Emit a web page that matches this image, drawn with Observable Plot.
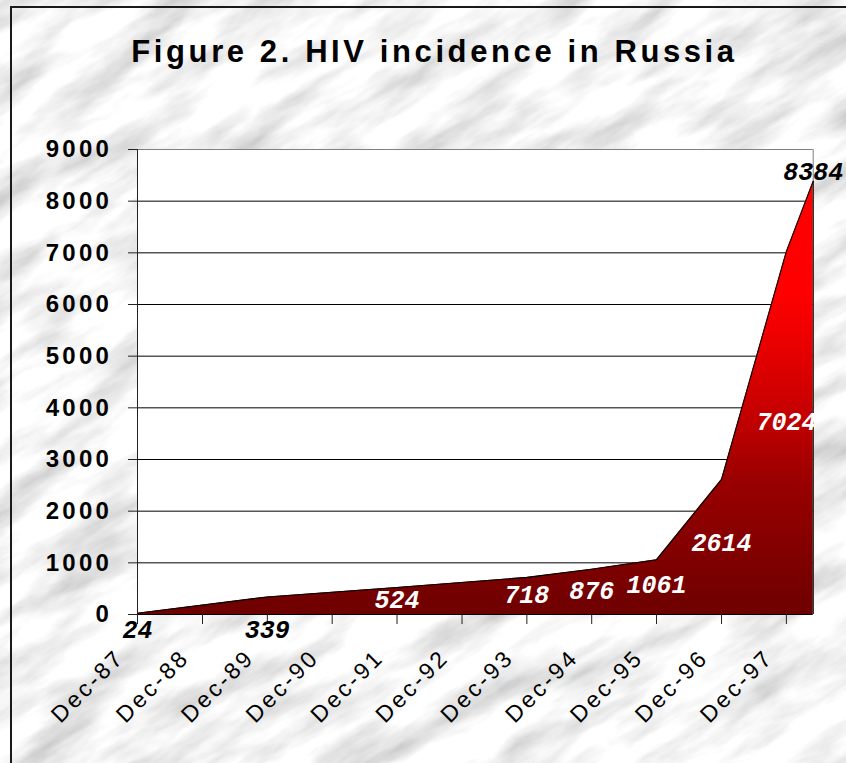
<!DOCTYPE html>
<html>
<head>
<meta charset="utf-8">
<script src="https://cdn.jsdelivr.net/npm/d3@7"></script>
<script src="https://cdn.jsdelivr.net/npm/@observablehq/plot@0.6"></script>
<style>
  html, body { margin: 0; padding: 0; }
  #page { position: relative; width: 846px; height: 763px; overflow: hidden; background-color: #e6e6e6; }
  #border { position: absolute; left: 10px; top: 6px; width: 900px; height: 900px;
            border-left: 2px solid #1a1a1a; border-top: 2px solid #1a1a1a; pointer-events: none; }
  #title { position: relative; height: 64px; padding-top: 36px; padding-left: 23px; text-align: center;
           font: bold 31px "Liberation Sans", Arial, sans-serif; line-height: 31px; letter-spacing: 3.6px; color: #000; }
  #chart svg { display: block; }
</style>
</head>
<body>
<div id="page">
  <div id="title">Figure 2. HIV incidence in Russia</div>
  <div id="chart"></div>
  <div id="border"></div>
</div>
<script>
// ---- data ----
const dates = ["1987-12", "1989-12", "1991-12", "1993-12", "1994-12", "1995-12", "1996-12", "1997-12", "1998-05"];
const cases = [24, 339, 524, 718, 876, 1061, 2614, 7024, 8384];
const labelPlace = ["below", "below", "inside", "inside", "inside", "inside", "inside", "inside", "above"];
const tickLabels = ["Dec-87", "Dec-88", "Dec-89", "Dec-90", "Dec-91", "Dec-92", "Dec-93", "Dec-94", "Dec-95", "Dec-96", "Dec-97"];
const yTicks = [0, 1000, 2000, 3000, 4000, 5000, 6000, 7000, 8000, 9000];

// ---- marble background ----
const marble = `<svg xmlns="http://www.w3.org/2000/svg" width="846" height="763"><defs><filter id="m"><feTurbulence type="fractalNoise" baseFrequency="0.009 0.03" numOctaves="5" seed="11"/><feColorMatrix type="matrix" values="0.9 0 0 0 0.46  0.9 0 0 0 0.46  0.9 0 0 0 0.46  0 0 0 0 1"/></filter></defs><g transform="rotate(-30 423 381)"><rect x="-500" y="-500" width="1900" height="1800" filter="url(#m)"/></g></svg>`;
document.getElementById("page").style.backgroundImage = `url("data:image/svg+xml,${encodeURIComponent(marble)}")`;

// ---- build ----
const parseMonth = d3.utcParse("%Y-%m");
const parseTick = d3.utcParse("%b-%y");
const data = dates.map((d, i) => ({date: parseMonth(d), value: cases[i], place: labelPlace[i]}));
const tickDates = tickLabels.map(parseTick);
const labelByTime = new Map(tickDates.map((d, i) => [+d, tickLabels[i]]));

const sans = "'Liberation Sans', Arial, sans-serif";
const mono = "'Liberation Mono', 'Courier New', monospace";
const lbl = {x: "date", text: d => String(d.value), fontFamily: mono, fontWeight: "bold", fontStyle: "italic", fontSize: 25, ariaLabel: "data label"};
const last = data[data.length - 1];

const svg = Plot.plot({
  width: 846,
  height: 663,
  marginLeft: 137,
  marginRight: 33.3,
  marginTop: 49,
  marginBottom: 149,
  style: {background: "transparent", overflow: "visible"},
  x: {type: "utc", domain: [data[0].date, last.date]},
  y: {domain: [0, 9000]},
  marks: [
    Plot.frame({fill: "white", stroke: "none"}),
    Plot.ruleY(yTicks.filter(v => v > 0 && v < 9000), {stroke: "black", strokeWidth: 1}),
    Plot.ruleY([9000], {stroke: "#808080"}),
    Plot.ruleX([last.date], {stroke: "#808080"}),
    Plot.areaY(data, {x: "date", y: "value", fill: "url(#hivGrad)"}),
    Plot.lineY(data, {x: "date", y: "value", stroke: "black", strokeWidth: 1.1}),
    Plot.ruleX([last], {x: "date", y1: () => 0, y2: "value", stroke: "black"}),
    Plot.ruleX([data[0].date], {stroke: "#222"}),
    Plot.ruleY([0], {stroke: "black"}),
    Plot.axisY({ticks: yTicks, tickSize: 9, tickPadding: 16.5, tickFormat: "d", label: null,
                fontSize: 24, fontWeight: "bold", fontFamily: sans, stroke: "#222"}),
    Plot.axisX({ticks: tickDates, tickSize: 10, fill: "none", label: null, stroke: "#222"}),
    Plot.axisX({ticks: tickDates, tickSize: 0, tickPadding: 0, tickRotate: -45, textAnchor: "end", lineAnchor: "middle",
                dx: -17, dy: 39, label: null, tickFormat: d => labelByTime.get(+d), fontSize: 23, fontFamily: sans}),
    Plot.text(data.filter(d => d.place === "inside"), {...lbl, y: d => d.value * 0.53, fill: "white"}),
    Plot.text(data.filter(d => d.place === "below"), {...lbl, y: () => 0, dy: 15, fill: "black"}),
    Plot.text(data.filter(d => d.place === "above"), {...lbl, y: "value", dy: -9, fill: "black"})
  ]
});

// gradient for the area
const defs = d3.select(svg).insert("defs", ":first-child");
const grad = defs.append("linearGradient").attr("id", "hivGrad").attr("x1", 0).attr("y1", 1).attr("x2", 0).attr("y2", 0);
[[0, "#6e0000"], [0.3, "#980000"], [0.45, "#c20000"], [0.65, "#f00000"], [0.75, "#ff0000"], [1, "#ff0000"]]
  .forEach(([o, c]) => grad.append("stop").attr("offset", o).attr("stop-color", c));

svg.querySelectorAll('g[aria-label="y-axis tick label"] text').forEach(t => t.style.letterSpacing = "3.2px");
svg.querySelectorAll('g[aria-label="x-axis tick label"] text').forEach(t => t.style.letterSpacing = "3px");
svg.querySelectorAll('g[aria-label="data label"] text').forEach(t => t.style.letterSpacing = "4.5px");

document.getElementById("chart").appendChild(svg);
</script>
</body>
</html>
